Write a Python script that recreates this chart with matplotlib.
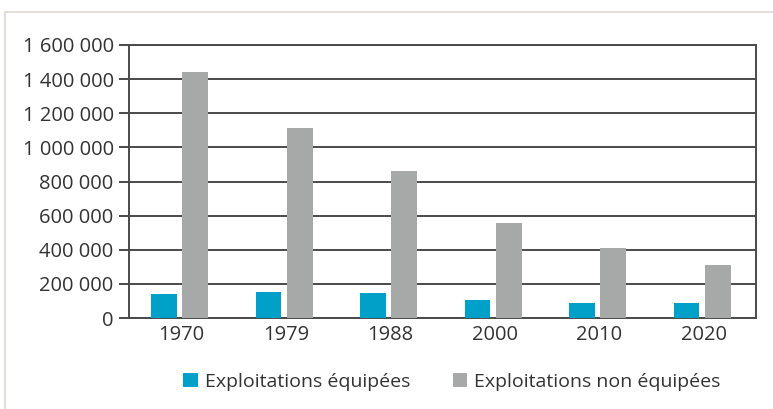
import matplotlib
matplotlib.use("Agg")
import matplotlib.pyplot as plt
import numpy as np
from matplotlib.patches import Rectangle

years = ["1970", "1979", "1988", "2000", "2010", "2020"]
equipees = [138000, 155000, 144000, 107000, 85000, 85000]
non_equipees = [1442000, 1113000, 864000, 558000, 410000, 312000]
yticks = [0, 200000, 400000, 600000, 800000, 1000000, 1200000, 1400000, 1600000]
ytick_labels = ["0", "200 000", "400 000", "600 000", "800 000", "1 000 000",
                "1 200 000", "1 400 000", "1 600 000"]

plt.rcParams['font.family'] = ['Open Sans', 'DejaVu Sans']

W, H = 773, 409
fig = plt.figure(figsize=(W / 100, H / 100), dpi=100)
# light outer frame
fig.patches.append(Rectangle((5 / W, -0.1), 1.2, 1 - 12 / H + 0.1, transform=fig.transFigure,
                             fill=False, edgecolor="#e2dfda", linewidth=1.5, zorder=0))

ax = fig.add_axes([129 / W, 1 - 318 / H, (756 - 129) / W, (318 - 45) / H])
x = np.arange(len(years))
blue = "#00a0c8"
grey = "#a7a9a9"
ax.bar(x - 0.165, equipees, 0.24, color=blue, zorder=3, label="Exploitations équipées")
ax.bar(x + 0.135, non_equipees, 0.25, color=grey, zorder=3, label="Exploitations non équipées")

ax.set_xlim(-0.5, 5.5)
ax.set_ylim(0, 1600000)
ax.set_yticks(yticks)
ax.set_yticklabels(ytick_labels)
ax.set_xticks(x)
ax.set_xticklabels(years)
ax.yaxis.grid(True, color="#4a4a4a", linewidth=1.4, zorder=1)
ax.set_axisbelow(True)
for s in ["left", "right", "top", "bottom"]:
    ax.spines[s].set_color("#4a4a4a")
    ax.spines[s].set_linewidth(1.4)
ax.tick_params(axis="y", length=7, width=1.4, color="#4a4a4a", labelsize=14.5,
               labelcolor="#333333", pad=4)
ax.tick_params(axis="x", length=0, labelsize=14.5, labelcolor="#333333", pad=5)

fig.legend(loc="center", bbox_to_anchor=(452 / W, 1 - 382 / H), ncol=2, frameon=False,
           fontsize=14, handlelength=0.75, handleheight=0.75, handletextpad=0.35,
           columnspacing=2.2, labelcolor="#333333")

fig.savefig("out.png", dpi=100)
